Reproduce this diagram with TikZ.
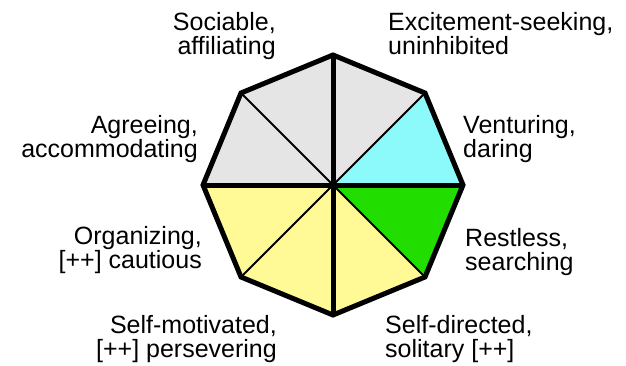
\documentclass[tikz,border=0pt]{standalone}
\usepackage{fontspec}
\setmainfont{Liberation Sans}
\definecolor{sectgray}{RGB}{229,229,229}
\definecolor{sectcyan}{RGB}{140,250,250}
\definecolor{sectgreen}{RGB}{34,221,0}
\definecolor{sectyellow}{RGB}{255,250,150}
\tikzset{every picture/.style={x=1pt,y=-1pt},
  lbl/.style={inner sep=0pt,font=\fontsize{25}{24}\selectfont}}

\begin{document}
\begin{tikzpicture}
      \useasboundingbox (0,0) rectangle (626,365);

      \coordinate (c) at (333,185);
      \coordinate (p1) at (333,55);
      \coordinate (p2) at (425,93);
      \coordinate (p3) at (463,185);
      \coordinate (p4) at (425,277);
      \coordinate (p5) at (333,315);
      \coordinate (p6) at (241,277);
      \coordinate (p7) at (203,185);
      \coordinate (p8) at (241,93);

      \fill[sectgray](c)--(p7)--(p8)--(p1)--(p2)--cycle;
      \fill[sectcyan](c)--(p2)--(p3)--cycle;
      \fill[sectgreen](c)--(p3)--(p4)--cycle;
      \fill[sectyellow](c)--(p4)--(p5)--(p6)--(p7)--cycle;

      \draw[line width=1.8pt](c)--(p2);
      \draw[line width=1.8pt](c)--(p4);
      \draw[line width=1.8pt](c)--(p6);
      \draw[line width=1.8pt](c)--(p8);
      \draw[line width=5pt](p1)--(p5);
      \draw[line width=5pt](p7)--(p3);
      \draw[line width=5pt](p1)--(p2)--(p3)--(p4)--(p5)--(p6)--(p7)--(p8)--cycle;

      \node[lbl,anchor=base east,align=right] (soc) at (276,54) {Sociable,\\affiliating};
      \node[lbl,anchor=base west,align=left] (exc) at (388,54) {Excitement-seeking,\\uninhibited};
      \node[lbl,anchor=base east,align=right] (agr) at (198,157) {Agreeing,\\accommodating};
      \node[lbl,anchor=base west,align=left] (ven) at (463,157) {Venturing,\\daring};
      \node[lbl,anchor=base east,align=right] (org) at (202,268) {Organizing,\\{[++]} cautious};
      \node[lbl,anchor=base west,align=left] (res) at (465,270) {Restless,\\searching};
      \node[lbl,anchor=base east,align=right] (mot) at (277,357) {Self-motivated,\\{[++]} persevering};
      \node[lbl,anchor=base west,align=left] (dir) at (385,357) {Self-directed,\\solitary [++]};
    \end{tikzpicture}
\end{document}
